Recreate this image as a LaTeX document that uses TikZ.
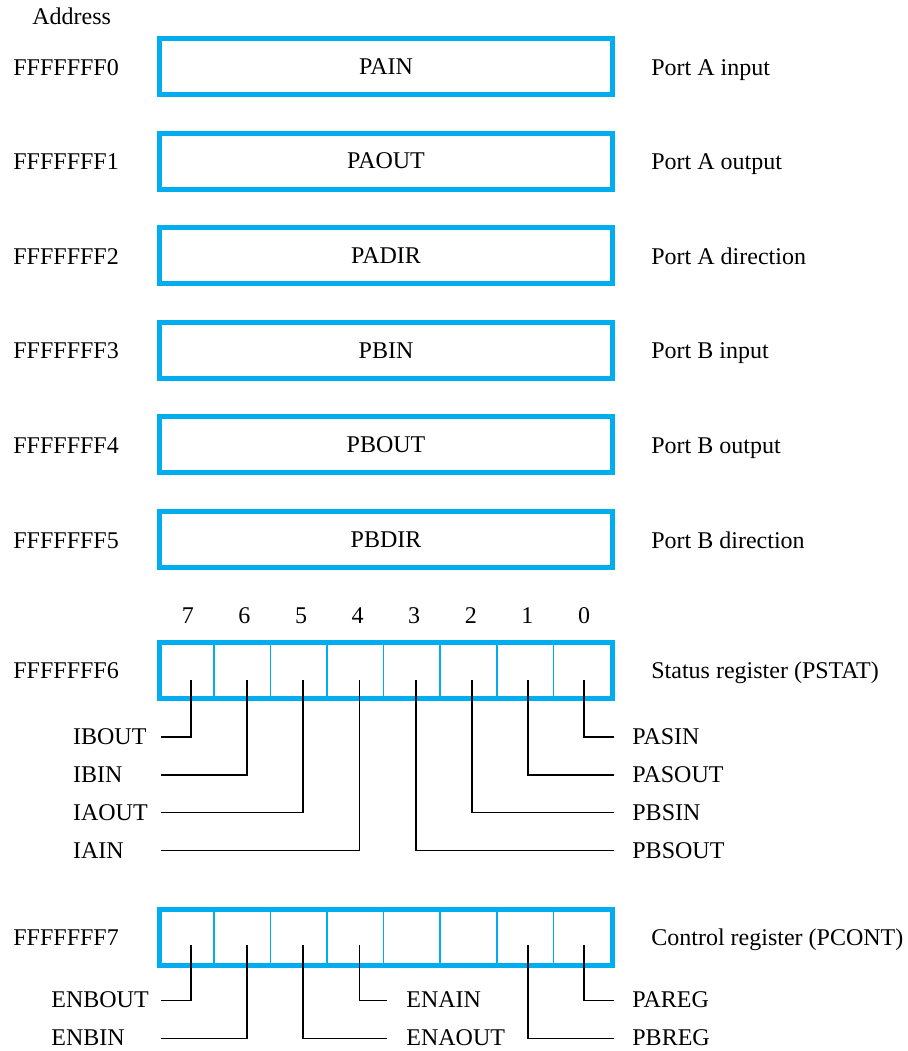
\documentclass[tikz,border=0pt]{standalone}
\usepackage{fontspec}
\setmainfont{Liberation Serif}
\usetikzlibrary{positioning,calc}
\definecolor{regblue}{RGB}{0,174,239}

\begin{document}
\begin{tikzpicture}[x=0.5pt,y=-0.5pt,
    every node/.style={font=\fontsize{12}{14}\selectfont},
    txt/.style={anchor=base west,inner sep=0pt},
    reg/.style={draw=regblue,line width=2.5pt,minimum width=226.4pt,minimum height=28pt,inner sep=0pt},
    cell/.style={draw=regblue,line width=0.8pt},
    lead/.style={line width=0.9pt}]
   \useasboundingbox (0,0) rectangle (907,1051);
   \node[txt] (addr) at (32,24) {Address};
   % byte registers
   \foreach \i/\rname/\ttl in {0/PAIN/{Port A input}, 1/PAOUT/{Port A output}, 2/PADIR/{Port A direction},
                              3/PBIN/{Port B input}, 4/PBOUT/{Port B output}, 5/PBDIR/{Port B direction}}{
     \node[reg] (r\i) at (386,66.5+94.6*\i) {\rname};
     \node[txt] (a\i) at (13,75+94.6*\i) {FFFFFFF\i};
     \node[txt] (d\i) at (651,75+94.6*\i) {\ttl};
   }
   % bit registers
   \node[reg] (stat) at (386,670) {};
   \node[txt] (a6) at (13,678) {FFFFFFF6};
   \node[txt] (d6) at (651,678) {Status register (PSTAT)};
   \node[reg] (cont) at (386,937) {};
   \node[txt] (a7) at (13,945) {FFFFFFF7};
   \node[txt] (d7) at (651,945) {Control register (PCONT)};
   \foreach \k in {1,...,7}{
     \draw[cell] ($(stat.north west)+(56.6*\k,0)$) -- ($(stat.south west)+(56.6*\k,0)$);
     \draw[cell] ($(cont.north west)+(56.6*\k,0)$) -- ($(cont.south west)+(56.6*\k,0)$);
   }
   \foreach \b in {0,...,7}
     \node[anchor=base,inner sep=0pt] (n\b) at (584-56.6*\b,623) {\b};
   % status bits
   \foreach \b/\r/\lbl in {7/0/IBOUT, 6/1/IBIN, 5/2/IAOUT, 4/3/IAIN}{
     \coordinate (s\b) at (584.3-56.2*\b,680);
     \coordinate (e\b) at (161,736.7+37.9*\r);
     \draw[lead] (s\b) |- (e\b);
     \node[txt] (l\b) at (72.7,744.7+37.9*\r) {\lbl};
   }
   \foreach \b/\r/\lbl in {0/0/PASIN, 1/1/PASOUT, 2/2/PBSIN, 3/3/PBSOUT}{
     \coordinate (s\b) at (584.3-56.2*\b,680);
     \coordinate (e\b) at (614,736.7+37.9*\r);
     \draw[lead] (s\b) |- (e\b);
     \node[txt] (l\b) at (632,744.7+37.9*\r) {\lbl};
   }
   % control bits
   \foreach \b/\r/\xe/\xl/\lbl in {7/0/161/51/ENBOUT, 6/1/161/51/ENBIN, 4/0/387/406/ENAIN,
                                  5/1/387/406/ENAOUT, 0/0/614/632/PAREG, 1/1/614/632/PBREG}{
     \coordinate (c\b) at (584.3-56.2*\b,945);
     \coordinate (f\b) at (\xe,1000.5+38*\r);
     \draw[lead] (c\b) |- (f\b);
     \node[txt] (m\b) at (\xl,1007.5+38*\r) {\lbl};
   }
\end{tikzpicture}
\end{document}
